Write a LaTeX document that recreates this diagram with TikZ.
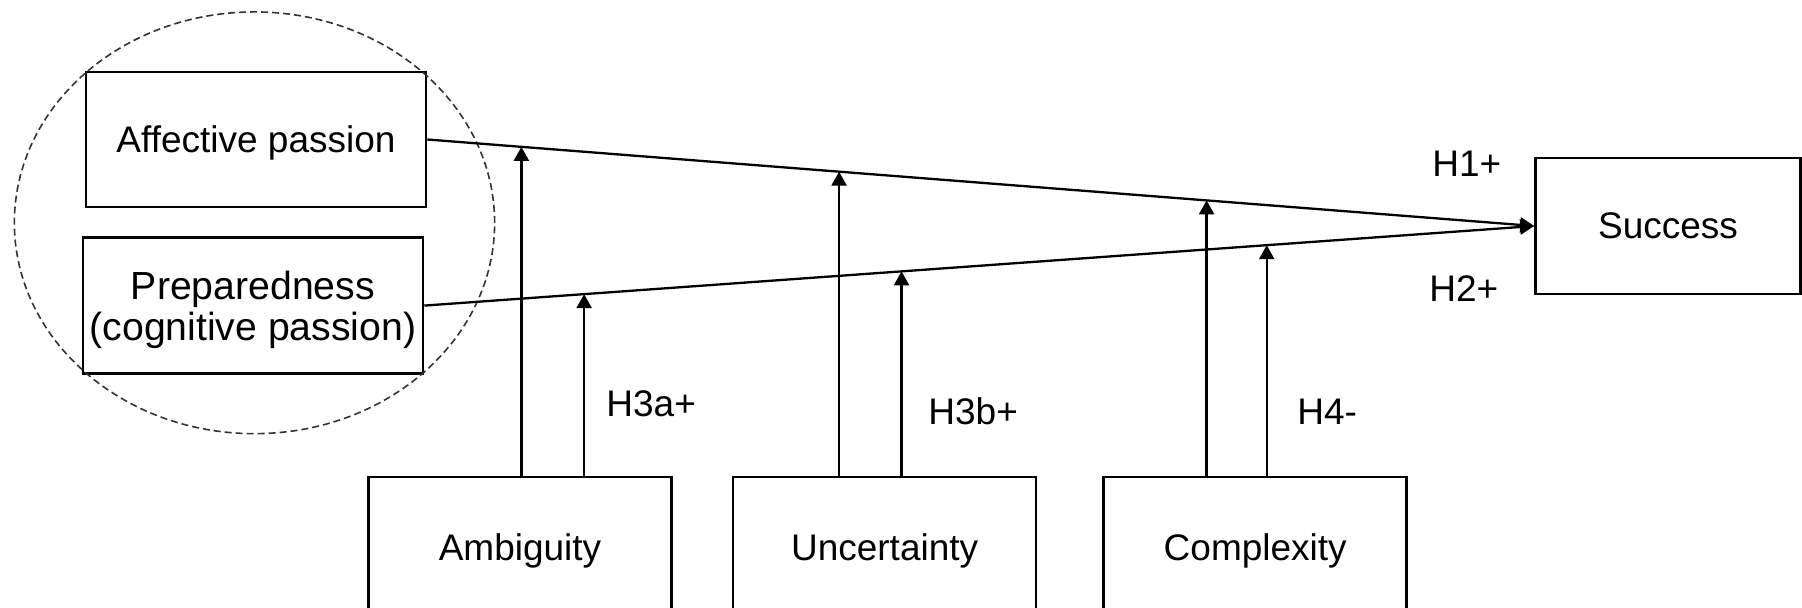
\documentclass[tikz,border=0pt]{standalone}
\usepackage{fontspec}
\setmainfont{Liberation Sans}
\usetikzlibrary{arrows.meta, positioning, fit, shapes.geometric}
\definecolor{rim}{HTML}{333333}

\begin{document}
\begin{tikzpicture}[x=0.5pt, y=-0.5pt, font=\fontsize{18.5}{18.5}\selectfont,
      box/.style={draw, line width=1.3pt, minimum width=170pt, minimum height=68pt, align=center, inner sep=0pt, text depth=0pt},
      low/.style={box, minimum width=151.5pt, minimum height=70pt},
      arr/.style={-{Triangle[length=7pt, width=7.5pt]}, line width=1.15pt},
      hyp/.style={anchor=base west, inner sep=0pt}]
    \useasboundingbox (0,0) rectangle (1802,608);
    \clip (0,0) rectangle (1802,608);
    \node[box, minimum height=67.5pt] (aff) at (256,139.5) {Affective passion};
    \node[box, below=14pt of aff, xshift=-1.5pt, font=\fontsize{19.6}{20.5}\selectfont] (prep) {Preparedness\\(cognitive passion)};
    \node[box, minimum width=132.5pt] (suc) at (1668,226) {Success};
    \node[low] (amb) at (520,547) {Ambiguity};
    \node[low, right=29.5pt of amb] (unc) {Uncertainty};
    \node[low, right=32.5pt of unc] (cpx) {Complexity};
    \node[draw=rim, ellipse, dash pattern=on 3.5pt off 2pt, line width=0.8pt, inner sep=-1.5pt, fit=(aff)(prep)] (grp) {};
    \draw[arr] (aff.east) -- coordinate[pos=0.085] (a1) coordinate[pos=0.372] (a2) coordinate[pos=0.704] (a3) (suc.west);
    \draw[arr] (prep.east) -- coordinate[pos=0.144] (p1) coordinate[pos=0.430] (p2) coordinate[pos=0.759] (p3) (suc.west);
    \draw[arr] (amb.north -| a1) -- (a1);
    \draw[arr] (amb.north -| p1) -- (p1);
    \draw[arr] (unc.north -| a2) -- (a2);
    \draw[arr] (unc.north -| p2) -- (p2);
    \draw[arr] (cpx.north -| a3) -- (a3);
    \draw[arr] (cpx.north -| p3) -- (p3);
    \node[hyp] (h1) at (1432,177) {H1+};
    \node[hyp] (h2) at (1429,302) {H2+};
    \node[hyp] (h3a) at (606,417) {H3a+};
    \node[hyp] (h3b) at (928,425) {H3b+};
    \node[hyp] (h4) at (1297,425) {H4-};
  \end{tikzpicture}
\end{document}
